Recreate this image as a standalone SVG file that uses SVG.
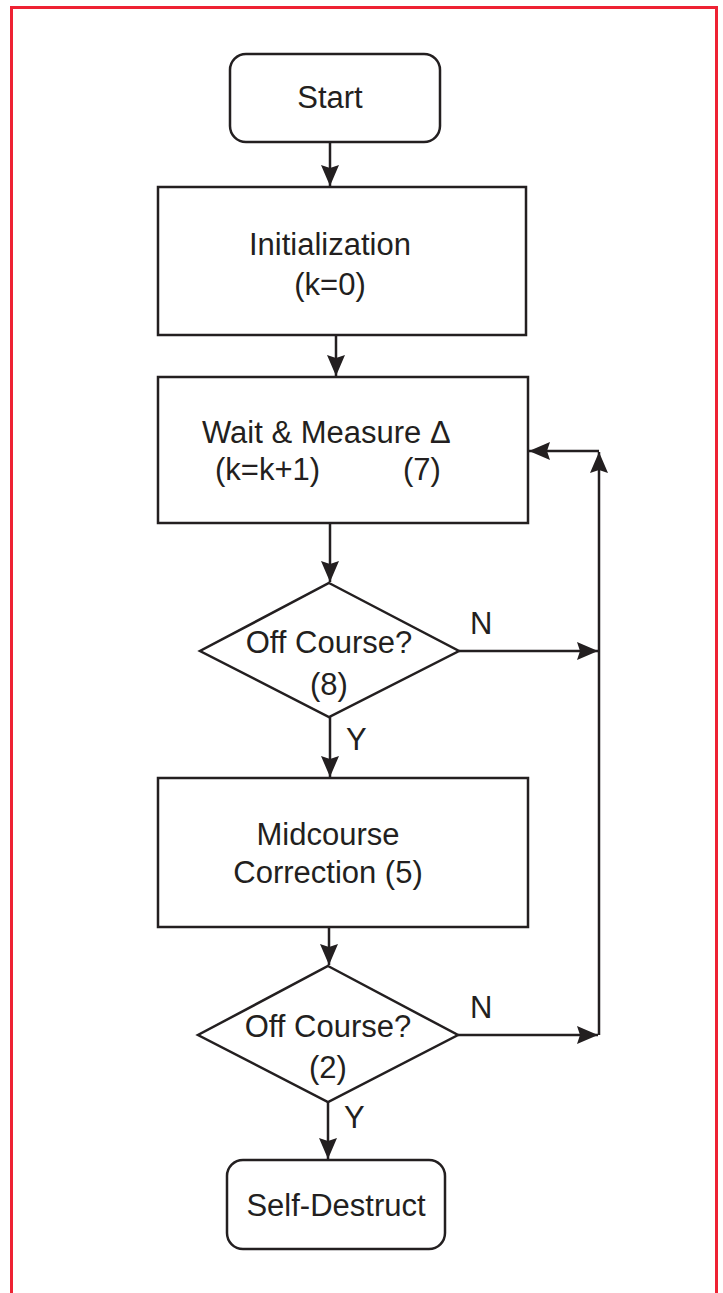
<svg xmlns="http://www.w3.org/2000/svg" width="723" height="1293" viewBox="0 0 723 1293">
<style>
.b{fill:#fff;stroke:#231f20;stroke-width:2.5}
.c{fill:none;stroke:#231f20;stroke-width:2.5}
.t{font-family:"Liberation Sans",Arial,sans-serif;font-size:31px;fill:#231f20}
.m{text-anchor:middle}
</style>
<defs>
<marker id="ah" markerUnits="userSpaceOnUse" markerWidth="22" markerHeight="18" refX="21" refY="9" orient="auto">
<path d="M0,0 L21,9 L0,18 L3,9 Z" fill="#231f20"/>
</marker>
</defs>
<rect width="723" height="1293" fill="#fff"/>
<path d="M11.5,1300 V7.5 H716.5 V1300" fill="none" stroke="#ee2233" stroke-width="3"/>
<g id="connectors">
<path class="c" d="M330,142 V186" marker-end="url(#ah)"/>
<path class="c" d="M336,335 V376" marker-end="url(#ah)"/>
<path class="c" d="M330,523 V582" marker-end="url(#ah)"/>
<path class="c" d="M330,717 V777" marker-end="url(#ah)"/>
<path class="c" d="M329,927 V965" marker-end="url(#ah)"/>
<path class="c" d="M328,1102 V1159" marker-end="url(#ah)"/>
<path class="c" d="M459,651 H598" marker-end="url(#ah)"/>
<path class="c" d="M458,1035 H598" marker-end="url(#ah)"/>
<path class="c" d="M599,1035 V452" marker-end="url(#ah)"/>
<path class="c" d="M599,451 H529" marker-end="url(#ah)"/>
<text class="t" x="470" y="634">N</text>
<text class="t" x="470" y="1018">N</text>
<text class="t" x="346" y="750">Y</text>
<text class="t" x="344" y="1128">Y</text>
</g>
<g id="start">
<rect class="b" x="230" y="54" width="210" height="88" rx="16"/>
<text class="t m" x="330" y="108">Start</text>
</g>
<g id="init">
<rect class="b" x="158" y="187" width="368" height="148"/>
<text class="t m" x="330" y="255">Initialization</text>
<text class="t m" x="330" y="295">(k=0)</text>
</g>
<g id="wait">
<rect class="b" x="158" y="377" width="370" height="146"/>
<text class="t" x="202" y="443">Wait &amp; Measure Δ</text>
<text class="t" x="215" y="480">(k=k+1)</text>
<text class="t" x="403" y="480">(7)</text>
</g>
<g id="check1">
<path class="b" d="M329,583 L459,651 L329,717 L200,651 Z"/>
<text class="t m" x="329" y="653">Off Course?</text>
<text class="t m" x="329" y="695">(8)</text>
</g>
<g id="midcourse">
<rect class="b" x="158" y="778" width="370" height="149"/>
<text class="t m" x="328" y="845">Midcourse</text>
<text class="t m" x="328" y="883">Correction (5)</text>
</g>
<g id="check2">
<path class="b" d="M328,966 L458,1035 L328,1102 L198,1035 Z"/>
<text class="t m" x="328" y="1037">Off Course?</text>
<text class="t m" x="328" y="1078">(2)</text>
</g>
<g id="selfdestruct">
<rect class="b" x="227" y="1160" width="218" height="89" rx="16"/>
<text class="t m" x="336" y="1216">Self-Destruct</text>
</g>
</svg>
